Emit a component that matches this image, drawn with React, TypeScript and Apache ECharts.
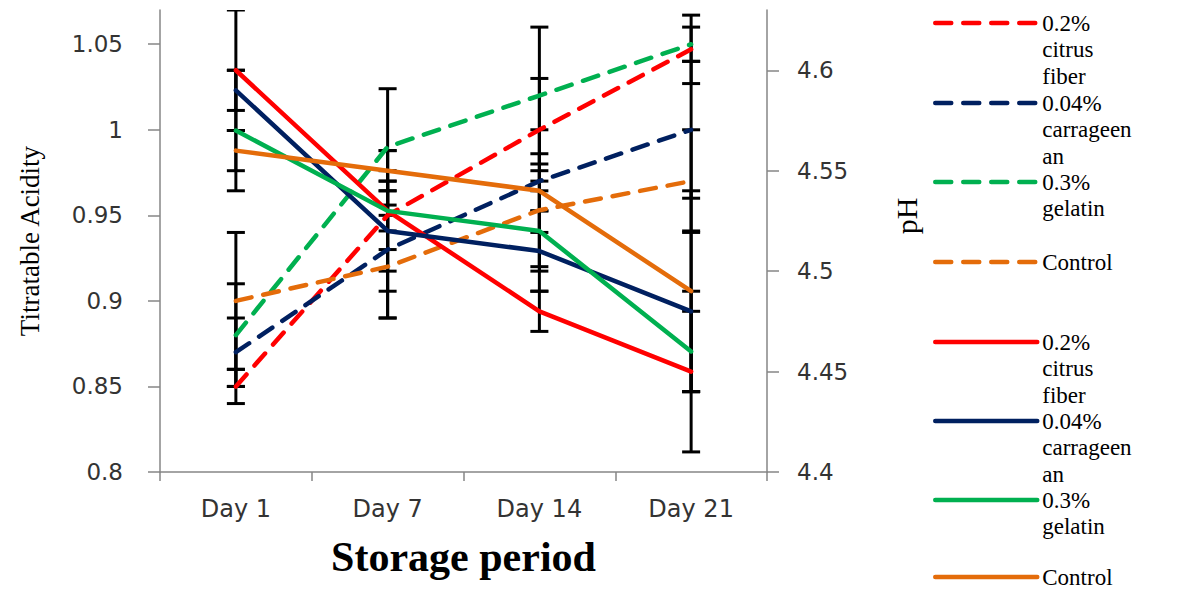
import React, { useEffect, useRef } from 'react';
import * as echarts from 'echarts';

// ---------- data ----------
const days = ['Day 1', 'Day 7', 'Day 14', 'Day 21'];

const treatments = ['0.2% citrus fiber', '0.04% carrageenan', '0.3% gelatin', 'Control'];
const legendLabels = ['0.2%\ncitrus\nfiber', '0.04%\ncarrageen\nan', '0.3%\ngelatin', 'Control'];
const colors = ['#FF0000', '#002060', '#00B050', '#E46C0A'];

// Titratable acidity (dashed, left axis)
const taCitrus = [0.85, 0.95, 1.0, 1.047];
const taCarrageenan = [0.87, 0.93, 0.97, 1.0];
const taGelatin = [0.88, 0.99, 1.02, 1.05];
const taControl = [0.9, 0.92, 0.953, 0.97];

const taCitrusErr = [0.01, 0.02, 0.03, 0.02];
const taCarrageenanErr = [0.02, 0.04, 0.03, 0.04];
const taGelatinErr = [0.03, 0.034, 0.04, 0.01];
const taControlErr = [0.04, 0.03, 0.033, 0.03];

// pH (solid, right axis)
const phCitrus = [4.6, 4.53, 4.48, 4.45];
const phCarrageenan = [4.59, 4.52, 4.51, 4.48];
const phGelatin = [4.57, 4.53, 4.52, 4.46];
const phControl = [4.56, 4.55, 4.54, 4.49];

const phCitrusErr = [0.03, 0.03, 0.01, 0.04];
const phCarrageenanErr = [0.01, 0.03, 0.02, 0.04];
const phGelatinErr = [0.03, 0.01, 0.02, 0.02];
const phControlErr = [0.01, 0.01, 0.01, 0.05];

const taTicks = [0.8, 0.85, 0.9, 0.95, 1.0, 1.05];
const phTicks = [4.4, 4.45, 4.5, 4.55, 4.6];

const taSeries = [taCitrus, taCarrageenan, taGelatin, taControl];
const taErrs = [taCitrusErr, taCarrageenanErr, taGelatinErr, taControlErr];
const phSeries = [phCitrus, phCarrageenan, phGelatin, phControl];
const phErrs = [phCitrusErr, phCarrageenanErr, phGelatinErr, phControlErr];

// ---------- layout ----------
const LEGEND_Y = [23, 103, 182, 262, 342, 421, 500, 577];
const LH = 26.5;

function errorBarRender(params: any, api: any) {
  const x = api.value(0);
  const lo = api.coord([x, api.value(1)]);
  const hi = api.coord([x, api.value(2)]);
  const hw = 9;
  const style = { stroke: '#000', lineWidth: 3 };
  return {
    type: 'group',
    children: [
      { type: 'line', shape: { x1: lo[0], y1: lo[1], x2: hi[0], y2: hi[1] }, style },
      { type: 'line', shape: { x1: lo[0] - hw, y1: lo[1], x2: lo[0] + hw, y2: lo[1] }, style },
      { type: 'line', shape: { x1: hi[0] - hw, y1: hi[1], x2: hi[0] + hw, y2: hi[1] }, style },
    ],
  };
}

export default function App() {
  const ref = useRef<HTMLDivElement>(null);

  useEffect(() => {
    if (!ref.current) return;
    const chart = echarts.init(ref.current, null, { renderer: 'svg' });

    const series: any[] = [];
    const names: string[] = [];

    // error bars first (drawn beneath)
    taSeries.forEach((vals, i) => {
      series.push({
        type: 'custom',
        name: 'err-ta-' + i,
        yAxisIndex: 0,
        clip: true,
        z: 1,
        renderItem: errorBarRender,
        encode: { x: 0, y: [1, 2] },
        data: vals.map((v, j) => [j, v - taErrs[i][j], v + taErrs[i][j]]),
      });
    });
    phSeries.forEach((vals, i) => {
      series.push({
        type: 'custom',
        name: 'err-ph-' + i,
        yAxisIndex: 1,
        clip: true,
        z: 1,
        renderItem: errorBarRender,
        encode: { x: 0, y: [1, 2] },
        data: vals.map((v, j) => [j, v - phErrs[i][j], v + phErrs[i][j]]),
      });
    });

    taSeries.forEach((vals, i) => {
      const name = treatments[i] + ' (TA)';
      names.push(name);
      series.push({
        type: 'line',
        name,
        yAxisIndex: 0,
        data: vals,
        symbol: 'none',
        z: 3,
        color: colors[i],
        lineStyle: { color: colors[i], width: 4.5, type: [16, 12], cap: 'round' },
      });
    });
    phSeries.forEach((vals, i) => {
      const name = treatments[i] + ' (pH)';
      names.push(name);
      series.push({
        type: 'line',
        name,
        yAxisIndex: 1,
        data: vals,
        symbol: 'none',
        z: 4,
        color: colors[i],
        lineStyle: { color: colors[i], width: 4.5, type: 'solid', cap: 'round' },
      });
    });

    const legends = names.map((name, k) => {
      const label = legendLabels[treatments.findIndex((t) => name.startsWith(t))];
      const n = label.split('\n').length;
      const H = (2 * n - 1) * LH;
      const shown = '\n'.repeat(n - 1) + label;
      return {
        data: [name],
        orient: 'vertical',
        left: 933,
        top: LEGEND_Y[k] - H / 2,
        padding: 0,
        itemGap: 0,
        itemWidth: 102,
        itemHeight: 14,
        selectedMode: false,
        itemStyle: { opacity: 0 },
        lineStyle: { width: 4.5, cap: 'round' },
        formatter: () => shown,
        textStyle: {
          fontFamily: 'Liberation Serif',
          fontSize: 23,
          color: '#000',
          lineHeight: LH,
        },
      };
    });

    const axisLine = { show: true, lineStyle: { color: '#868686', width: 1.5 } };
    const axisTick = { show: true, lineStyle: { color: '#868686', width: 1.5 } };

    chart.setOption({
      animation: false,
      backgroundColor: '#fff',
      grid: { left: 160, right: 429, top: 10, bottom: 120, containLabel: false },
      legend: legends,
      xAxis: {
        type: 'category',
        data: days,
        boundaryGap: true,
        axisLine,
        axisTick: { ...axisTick, length: 9, alignWithLabel: false },
        axisLabel: { fontFamily: 'DejaVu Sans', fontSize: 24, color: '#333', margin: 25 },
        splitLine: { show: false },
        name: 'Storage period',
        nameLocation: 'middle',
        nameGap: 64,
        nameTextStyle: { fontFamily: 'Liberation Serif', fontWeight: 'bold', fontSize: 42, color: '#000' },
      },
      yAxis: [
        {
          type: 'value',
          min: 0.8,
          max: 1.07,
          position: 'left',
          axisLine,
          axisTick: { ...axisTick, length: 12, customValues: taTicks },
          axisLabel: { customValues: taTicks, fontFamily: 'DejaVu Sans', fontSize: 23, color: '#333', margin: 37 },
          splitLine: { show: false },
          name: 'Titratable Acidity',
          nameLocation: 'middle',
          nameRotate: 90,
          nameGap: 117,
          nameTextStyle: { fontFamily: 'Liberation Serif', fontSize: 27, color: '#000' },
        },
        {
          type: 'value',
          min: 4.4,
          max: 4.63,
          position: 'right',
          axisLine,
          axisTick: { ...axisTick, length: 12, customValues: phTicks },
          axisLabel: { customValues: phTicks, fontFamily: 'DejaVu Sans', fontSize: 23, color: '#333', margin: 30 },
          splitLine: { show: false },
          name: 'pH',
          nameLocation: 'middle',
          nameRotate: 90,
          nameGap: 124,
          nameTextStyle: { fontFamily: 'Liberation Serif', fontSize: 30, color: '#000', padding: [0, 0, 0, 50] },
        },
      ],
      series,
    });

    return () => chart.dispose();
  }, []);

  return (
    <div
      ref={ref}
      style={{ position: 'absolute', left: 0, top: 0, width: 1196, height: 592, background: '#fff' }}
    />
  );
}
